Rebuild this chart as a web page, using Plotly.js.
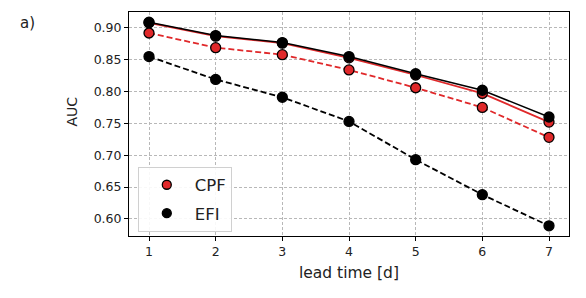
<!DOCTYPE html>
<html><head><meta charset="utf-8">
<script src="https://cdn.plot.ly/plotly-3.0.1.min.js"></script>
<style>html,body{margin:0;padding:0;background:#fff}#plot{width:586px;height:298px}</style>
</head><body><div id="plot"></div>
<script>
const leadTime = [1, 2, 3, 4, 5, 6, 7];
const cpfSolid = [0.908, 0.887, 0.876, 0.853, 0.826, 0.797, 0.752];
const efiSolid = [0.909, 0.888, 0.877, 0.855, 0.828, 0.802, 0.760];
const cpfDashed = [0.892, 0.869, 0.858, 0.834, 0.806, 0.775, 0.728];
const efiDashed = [0.855, 0.819, 0.791, 0.753, 0.693, 0.638, 0.589];
const yTicks = [0.60, 0.65, 0.70, 0.75, 0.80, 0.85, 0.90];

const RED = '#e0282a';
const mk = (c, s) => ({size: s || 10, color: c, line: {color: '#000', width: 1.3}});
const traces = [
  {x: leadTime, y: cpfSolid, mode: 'lines+markers', line: {color: RED, width: 1.8}, marker: mk(RED), showlegend: false},
  {x: leadTime, y: efiSolid, mode: 'lines+markers', line: {color: '#000', width: 1.5}, marker: mk('#000'), showlegend: false},
  {x: leadTime, y: cpfDashed, mode: 'lines+markers', line: {color: RED, width: 1.8, dash: '6px,3px'}, marker: mk(RED), showlegend: false},
  {x: leadTime, y: efiDashed, mode: 'lines+markers', line: {color: '#000', width: 1.8, dash: '6px,3px'}, marker: mk('#000'), showlegend: false},
  {x: [null], y: [null], mode: 'markers', marker: mk(RED, 9), name: 'CPF', legendgroup: 'a'},
  {x: [null], y: [null], mode: 'markers', marker: mk('#000', 9), name: 'EFI', legendgroup: 'b'}
];
const layout = {
  width: 586, height: 298,
  margin: {l: 129, r: 17, t: 12, b: 62},
  paper_bgcolor: '#fff', plot_bgcolor: '#fff',
  font: {family: 'DejaVu Sans', size: 12.5, color: '#222'},
  xaxis: {range: [0.7, 7.3], tickvals: leadTime, ticks: 'outside', ticklen: 4, tickcolor: '#000',
    showgrid: true, gridcolor: '#b8b8b8', griddash: '3px,2px', gridwidth: 1,
    showline: true, linecolor: '#000', linewidth: 1, mirror: true, zeroline: false,
    title: {text: 'lead time [d]', font: {size: 15.5}, standoff: 9}},
  yaxis: {range: [0.573, 0.925], tickvals: yTicks, tickformat: '.2f', ticks: 'outside', ticklen: 4, tickcolor: '#000',
    showgrid: true, gridcolor: '#b8b8b8', griddash: '3px,2px', gridwidth: 1,
    showline: true, linecolor: '#000', linewidth: 1, mirror: true, zeroline: false},
  legend: {x: 0.02, y: 0.02, xanchor: 'left', yanchor: 'bottom', bgcolor: 'rgba(255,255,255,0.9)',
    bordercolor: '#d0d0d0', borderwidth: 1, font: {size: 16.5}, itemwidth: 46, tracegroupgap: 4},
  annotations: [
    {text: 'a)', xref: 'paper', yref: 'paper', x: -0.253, y: 1.0, xanchor: 'left', yanchor: 'top',
      showarrow: false, font: {size: 15, color: '#222'}},
    {text: 'AUC', xref: 'paper', yref: 'paper', x: -0.130, y: 0.555, xanchor: 'center', yanchor: 'middle',
      textangle: -90, showarrow: false, font: {size: 14, color: '#222'}}
  ]
};
Plotly.newPlot('plot', traces, layout, {displayModeBar: false, staticPlot: true});
</script></body></html>
